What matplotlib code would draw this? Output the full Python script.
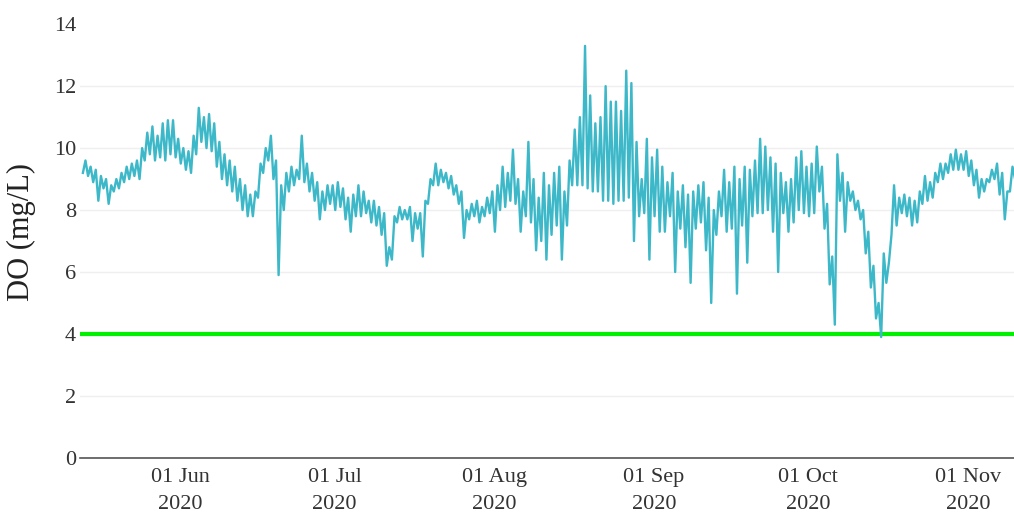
import matplotlib
matplotlib.use("Agg")
import matplotlib.pyplot as plt
import matplotlib.dates as mdates
import numpy as np
import pandas as pd

plt.rcParams['font.family'] = ['Liberation Serif', 'DejaVu Serif']

# Daily lows / highs of DO (mg/L), one pair per day from 13 May 2020
start_date = "2020-05-13"
daily_low = [
    9.2, 9.1, 8.9, 8.3, 8.7, 8.2, 8.6, 8.7, 8.9, 9.0,
    9.1, 9.0, 9.6, 9.8, 9.6, 9.7, 9.6, 9.8, 9.7, 9.5,
    9.3, 9.2, 9.8, 10.2, 10.0, 9.9, 9.4, 9.0, 8.8, 8.6,
    8.3, 8.0, 7.8, 7.8, 8.4, 9.2, 9.6, 9.0, 5.9, 8.0,
    8.6, 8.8, 9.0, 8.9, 8.6, 8.3, 7.7, 8.0, 8.2, 8.0,
    8.1, 7.7, 7.3, 7.8, 7.8, 7.9, 7.6, 7.5, 7.2, 6.2,
    6.4, 7.6, 7.7, 7.7, 7.0, 7.4, 6.5, 8.2, 8.8, 8.8,
    8.9, 8.7, 8.5, 8.2, 7.1, 7.7, 7.8, 7.6, 7.8, 7.9,
    7.3, 8.0, 8.1, 8.3, 8.2, 7.3, 7.8, 7.6, 6.7, 7.0,
    6.4, 7.2, 7.5, 6.4, 7.5, 8.8, 8.8, 8.8, 8.7, 8.6,
    8.6, 8.3, 8.3, 8.2, 8.3, 8.3, 8.4, 7.0, 7.8, 7.9,
    6.4, 7.8, 7.3, 7.3, 7.8, 6.0, 7.4, 6.8, 5.65, 7.4,
    7.6, 6.7, 5.0, 7.2, 7.8, 7.3, 7.4, 5.3, 7.5, 6.3,
    7.8, 7.9, 7.9, 8.0, 7.3, 6.0, 7.9, 7.3, 7.6, 8.0,
    7.9, 7.8, 7.9, 8.6, 7.4, 5.6, 4.3, 8.3, 7.3, 8.3,
    8.0, 7.7, 6.6, 5.5, 4.5, 3.9, 5.65, 7.2, 7.5, 7.9,
    7.8, 7.5, 7.6, 8.2, 8.3, 8.4, 8.9, 9.0, 9.2, 9.3,
    9.3, 9.3, 9.1, 8.8, 8.4, 8.6, 8.9, 9.0, 8.5, 7.7,
    8.6, 9.0,
]
daily_high = [
    9.6, 9.4, 9.3, 9.1, 9.0, 8.8, 9.0, 9.2, 9.4, 9.5,
    9.6, 10.0, 10.5, 10.7, 10.4, 10.8, 10.9, 10.9, 10.3, 10.0,
    9.9, 10.4, 11.3, 11.0, 11.1, 10.8, 10.2, 9.8, 9.6, 9.4,
    9.0, 8.8, 8.5, 8.6, 9.5, 10.0, 10.4, 9.6, 8.8, 9.2,
    9.4, 9.3, 10.4, 9.5, 9.2, 8.9, 8.6, 8.8, 8.8, 8.9,
    8.7, 8.4, 8.5, 8.8, 8.6, 8.3, 8.3, 8.1, 7.9, 6.8,
    7.8, 8.1, 8.0, 8.1, 7.9, 7.9, 8.3, 9.0, 9.5, 9.3,
    9.2, 9.1, 8.8, 8.6, 8.0, 8.2, 8.3, 8.1, 8.4, 8.6,
    8.8, 9.4, 9.2, 9.95, 9.0, 8.6, 10.2, 9.0, 8.4, 9.2,
    8.8, 9.2, 9.4, 8.6, 9.6, 10.6, 11.0, 13.3, 11.7, 10.8,
    11.0, 12.0, 11.5, 11.5, 11.2, 12.5, 12.1, 10.2, 9.0, 10.3,
    9.7, 9.95, 9.4, 8.9, 9.2, 8.6, 8.8, 8.5, 8.6, 8.8,
    8.9, 8.4, 8.0, 8.6, 9.3, 8.9, 9.4, 9.0, 9.4, 9.3,
    9.6, 10.3, 10.05, 9.7, 9.5, 9.2, 8.9, 9.0, 9.7, 9.9,
    9.4, 9.5, 10.05, 9.4, 8.2, 6.5, 9.8, 9.2, 8.9, 8.6,
    8.3, 8.0, 7.3, 6.2, 5.0, 6.6, 6.3, 8.8, 8.4, 8.5,
    8.4, 8.3, 8.6, 9.1, 8.9, 9.2, 9.5, 9.5, 9.8, 9.95,
    9.8, 9.9, 9.6, 9.3, 9.0, 9.0, 9.3, 9.5, 9.2, 8.6,
    9.4, 9.6,
]
threshold = 4.0
y_ticks = [0, 2, 4, 6, 8, 10, 12, 14]
x_tick_dates = ["2020-06-01", "2020-07-01", "2020-08-01",
                "2020-09-01", "2020-10-01", "2020-11-01"]

days = pd.date_range(start_date, periods=len(daily_low), freq="D")
times, values = [], []
for d, lo, hi in zip(days, daily_low, daily_high):
    times.append(d + pd.Timedelta(hours=3))
    values.append(lo)
    times.append(d + pd.Timedelta(hours=15))
    values.append(hi)

fig = plt.figure(figsize=(10.14, 5.15), dpi=100)
ax = fig.add_axes([0.079, 0.111, 0.921, 0.842])

ax.plot(times, values, color="#3DB8C8", lw=1.7, zorder=3)
ax.axhline(threshold, color="#00F000", lw=3, zorder=2)

ax.set_xlim(pd.Timestamp("2020-05-12 14:00"), pd.Timestamp("2020-11-09 22:00"))
ax.set_ylim(0, 14)
ax.set_yticks(y_ticks)
ax.set_xticks(pd.to_datetime(x_tick_dates))
ax.xaxis.set_major_formatter(mdates.DateFormatter("%d %b\n%Y"))

ax.grid(axis="y", color="#efefef", lw=1)
ax.get_ygridlines()[-1].set_visible(False)
ax.set_axisbelow(True)
for s in ["top", "right", "left"]:
    ax.spines[s].set_visible(False)
ax.spines["bottom"].set_color("#555555")
ax.spines["bottom"].set_linewidth(1.2)
ax.tick_params(axis="y", length=0, pad=3, labelsize=16, labelcolor="#333333")
ax.tick_params(axis="x", length=0, pad=7, labelsize=16, labelcolor="#333333")
for lab in ax.get_xticklabels():
    lab.set_linespacing(1.6)
ax.set_ylabel("DO (mg/L)", fontsize=22, color="#222222")
ax.yaxis.set_label_coords(-0.047, 0.52)

fig.savefig("out.png", dpi=100)
